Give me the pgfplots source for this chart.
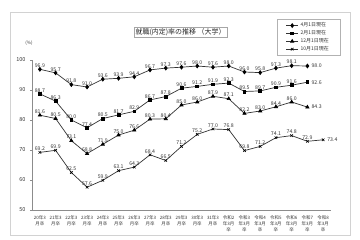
\documentclass[border=0pt]{standalone}
\usepackage{fontspec}
\setmainfont{Noto Sans CJK JP}
\usepackage{pgfplots}
\pgfplotsset{compat=1.18}
\definecolor{ln}{gray}{0.2}
\definecolor{ax}{gray}{0.55}
\begin{document}
\begin{tikzpicture}
\path[use as bounding box] (0,0) rectangle (360bp,240bp);
\draw[gray!35, line width=0.8bp] (10bp,5bp) rectangle (350bp,228bp);
\begin{axis}[
  at={(32bp,30bp)}, anchor=south west,
  scale only axis, width=299bp, height=150bp,
  xmin=-0.5, xmax=18.5, ymin=50, ymax=100,
  clip=false,
  axis x line=bottom, axis y line=left,
  axis line style={-, ax, line width=0.6bp},
  every tick/.style={ax, line width=0.5bp},
  tick align=outside,
  ytick={50,60,...,100},
  major tick length=2bp,
  yticklabel style={font=\fontsize{5.5}{6}\selectfont, text=black!80, xshift=-1bp},
  /pgf/number format/assume math mode=true,
  xtick={0,...,18},
  xticklabels={{20年3\\月卒},{21年3\\月卒},{22年3\\月卒},{23年3\\月卒},{24年3\\月卒},{25年3\\月卒},{26年3\\月卒},{27年3\\月卒},{28年3\\月卒},{29年3\\月卒},{30年3\\月卒},{31年3\\月卒},{令和2\\年3月\\卒},{令和3\\年3月\\卒},{令和4\\年3月\\卒},{令和5\\年3月\\卒},{令和6\\年3月\\卒},{令和7\\年3月\\卒},{令和8\\年3月\\卒}},
  x tick style={draw=none},
  minor xtick={-0.5,0.5,...,18.5},
  minor x tick style={ax, line width=0.5bp},
  minor tick length=2bp,
  xticklabel style={align=center, font=\fontsize{4.5}{6}\selectfont, text=black!80},
  every node near coord/.append style={font=\fontsize{5.2}{6}\selectfont, text=black!80, inner sep=1bp},
  legend style={at={(1.03,1.273)}, anchor=north east, draw=gray!60, font=\fontsize{5}{7}\selectfont, text=black!80, inner xsep=9bp, inner ysep=1.5bp, row sep=-1.8bp, cells={anchor=west}},
  legend image code/.code={\draw[mark repeat=2,mark phase=2] plot coordinates {(0bp,0bp) (6bp,0bp) (12bp,0bp)};},
]
% 4月1日現在
\addplot[ln, line width=0.7bp, mark=diamond*, mark size=1.9bp, mark options={black, solid}] coordinates {
(0,96.9)(1,95.7)(2,91.8)(3,91.0)(4,93.6)(5,93.9)(6,94.4)(7,96.7)(8,97.3)(9,97.6)(10,98.0)(11,97.6)(12,98.0)(13,96.0)(14,95.8)(15,97.3)(16,98.1)(17,98.0)};
\addlegendentry{4月1日現在}
% 2月1日現在
\addplot[ln, line width=0.7bp, mark=square*, mark size=1.4bp, mark options={black, solid}] coordinates {
(0,88.7)(1,86.3)(2,80.0)(3,77.4)(4,80.5)(5,81.7)(6,82.9)(7,86.7)(8,87.8)(9,90.6)(10,91.2)(11,91.9)(12,92.3)(13,89.5)(14,89.7)(15,90.9)(16,91.6)(17,92.6)};
\addlegendentry{2月1日現在}
% 12月1日現在
\addplot[ln, line width=0.7bp, mark=triangle*, mark size=1.8bp, mark options={black, solid}] coordinates {
(0,81.6)(1,80.5)(2,73.1)(3,68.8)(4,71.9)(5,75.0)(6,76.6)(7,80.3)(8,80.4)(9,85.0)(10,86.0)(11,87.9)(12,87.1)(13,82.2)(14,83.0)(15,84.4)(16,86.0)(17,84.3)};
\addlegendentry{12月1日現在}
% 10月1日現在
\addplot[ln, line width=0.7bp, mark=x, mark size=1.8bp, mark options={black, solid, line width=0.6bp}] coordinates {
(0,69.2)(1,69.9)(2,62.5)(3,57.6)(4,59.9)(5,63.1)(6,64.3)(7,68.4)(8,66.5)(9,71.2)(10,75.2)(11,77.0)(12,76.8)(13,69.8)(14,71.2)(15,74.1)(16,74.8)(17,72.9)(18,73.4)};
\addlegendentry{10月1日現在}

% labels above
\pgfplotsset{lbl/.style={draw=none, mark=none, forget plot, point meta=y,
  nodes near coords={\pgfmathprintnumber[fixed,fixed zerofill,precision=1,assume math mode=true]{\pgfplotspointmeta}}}}
\addplot[lbl, every node near coord/.append style={anchor=south, yshift=0.5bp}] coordinates {
(0,96.9)(1,95.7)(2,91.8)(3,91.0)(4,93.6)(5,93.9)(6,94.4)(7,96.7)(8,97.3)(9,97.6)(10,98.0)(11,97.6)(12,98.0)(13,96.0)(14,95.8)(15,97.3)(16,98.1)};
\addplot[lbl, every node near coord/.append style={anchor=south, yshift=0.5bp}] coordinates {
(0,88.7)(1,86.3)(2,80.0)(3,77.4)(4,80.5)(5,81.7)(6,82.9)(7,86.7)(8,87.8)(9,90.6)(10,91.2)(11,91.9)(12,92.3)(13,89.5)(14,89.7)(15,90.9)(16,91.6)};
\addplot[lbl, every node near coord/.append style={anchor=south, yshift=0.5bp}] coordinates {
(0,81.6)(1,80.5)(2,73.1)(3,68.8)(4,71.9)(5,75.0)(6,76.6)(7,80.3)(8,80.4)(9,85.0)(10,86.0)(11,87.9)(12,87.1)(13,82.2)(14,83.0)(15,84.4)(16,86.0)};
\addplot[lbl, every node near coord/.append style={anchor=south, yshift=0.5bp}] coordinates {
(0,69.2)(1,69.9)(2,62.5)(3,57.6)(4,59.9)(5,63.1)(6,64.3)(7,68.4)(8,66.5)(9,71.2)(10,75.2)(11,77.0)(12,76.8)(13,69.8)(14,71.2)(15,74.1)(16,74.8)(17,72.9)};
% labels right of last points
\addplot[lbl, every node near coord/.append style={anchor=west, xshift=3bp}] coordinates {(17,98.0)};
\addplot[lbl, every node near coord/.append style={anchor=west, xshift=3bp}] coordinates {(17,92.6)};
\addplot[lbl, every node near coord/.append style={anchor=west, xshift=3bp}] coordinates {(17,84.3)};
\addplot[lbl, every node near coord/.append style={anchor=west, xshift=3bp}] coordinates {(18,73.4)};

\node[draw=gray!70, font=\fontsize{7}{8}\selectfont, text=black!85, inner sep=1.5bp] at (rel axis cs:0.497,1.187) {就職(内定)率の推移\ （大学）};
\node[font=\fontsize{4.5}{5}\selectfont, text=black!80] at (rel axis cs:-0.01,1.113) {(\%)};
\end{axis}
\end{tikzpicture}
\end{document}
